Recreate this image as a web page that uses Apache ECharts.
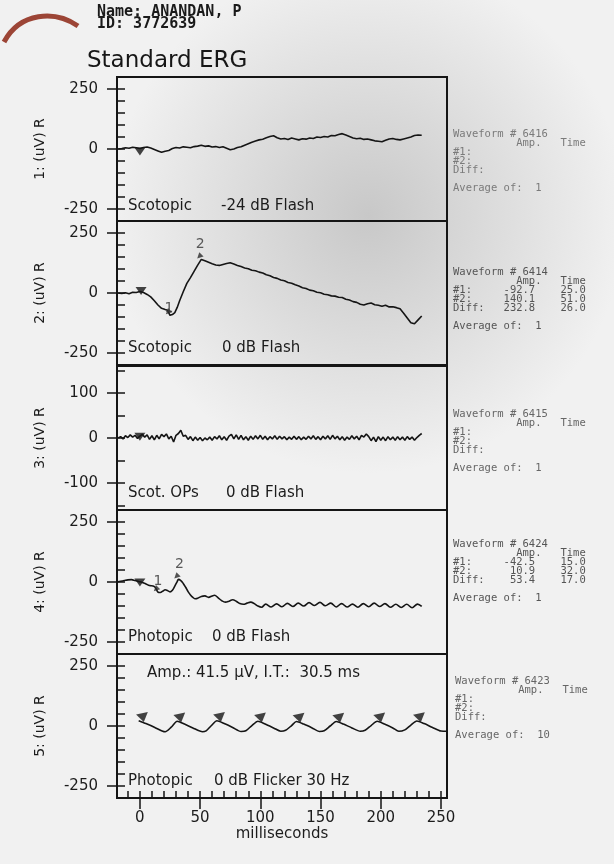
<!DOCTYPE html>
<html>
<head>
<meta charset="utf-8">
<script src="https://cdn.jsdelivr.net/npm/echarts@6/dist/echarts.min.js"></script>
<style>
html,body{margin:0;padding:0;background:#f1f1f1;}
#c{width:614px;height:864px;}
</style>
</head>
<body>
<div id="c"></div>
<script>
// ---------------- text content ----------------
const patientName = 'Name: ANANDAN, P';
const patientId = 'ID: 3772639';
const chartTitle = 'Standard ERG';
const axisNames = ['1: (uV) R', '2: (uV) R', '3: (uV) R', '4: (uV) R', '5: (uV) R'];
const protocolLeft = ['Scotopic', 'Scotopic', 'Scot. OPs', 'Photopic', 'Photopic'];
const protocolRight = ['-24 dB Flash', '0 dB Flash', '0 dB Flash', '0 dB Flash', '0 dB Flicker 30 Hz'];
const flickerSummary = 'Amp.: 41.5 \u00b5V, I.T.:  30.5 ms';
const xAxisName = 'milliseconds';

// ---------------- axes ----------------
const yRanges = [[-300, 300], [-300, 300], [-160, 160], [-300, 300], [-300, 300]];
const yTickLabels = [[-250, 0, 250], [-250, 0, 250], [-100, 0, 100], [-250, 0, 250], [-250, 0, 250]];
const yTicksMinorWide = [-250, -200, -150, -100, -50, 0, 50, 100, 150, 200, 250];
const yTicksMinorOps = [-150, -100, -50, 0, 50, 100, 150];
const xRange = [-19, 255];
const xTickLabels = [0, 50, 100, 150, 200, 250];
const xTicksMinor = [-10, 0, 10, 20, 30, 40, 50, 60, 70, 80, 90, 100, 110, 120, 130, 140, 150, 160, 170, 180, 190, 200, 210, 220, 230, 240, 250];

// ---------------- waveform tables ----------------
const waveformIds = ['6416', '6414', '6415', '6424', '6423'];
const rowLabels = ['#1:', '#2:', 'Diff:'];
const ampValues = [null, [-92.7, 140.1, 232.8], null, [-42.5, 10.9, 53.4], null];
const timeValues = [null, [25.0, 51.0, 26.0], null, [15.0, 32.0, 17.0], null];
const averageOf = [1, 1, 1, 1, 10];

// ---------------- traces: [ms, uV] ----------------
const scotDim = [[-18,0],[-15,2],[-12,5],[-9,3],[-6,7],[-3,5],[0,2],[3,6],[6,8],[9,4],[12,-2],[15,-8],[18,-14],[21,-9],[24,-6],[27,2],[30,6],[33,4],[36,9],[39,7],[42,5],[45,10],[48,12],[51,16],[54,11],[57,13],[60,8],[63,10],[66,6],[69,9],[72,3],[75,-3],[78,0],[81,6],[84,9],[87,16],[90,22],[93,28],[96,33],[99,38],[102,41],[105,47],[108,52],[111,55],[114,47],[117,42],[120,44],[123,40],[126,46],[129,42],[132,38],[135,43],[138,41],[141,46],[144,44],[147,50],[150,48],[153,52],[156,50],[159,56],[162,55],[165,60],[168,64],[171,58],[174,52],[177,46],[180,43],[183,45],[186,40],[189,42],[192,38],[195,34],[198,32],[201,30],[204,36],[207,42],[210,44],[213,40],[216,38],[219,42],[222,46],[225,50],[228,56],[231,58],[234,57]];

const scotBright = [[-18,0],[-15,-2],[-12,1],[-9,-3],[-6,3],[-3,2],[0,6],[3,2],[6,-6],[9,-16],[12,-32],[15,-50],[18,-64],[21,-69],[23,-72],[25,-93],[27,-90],[29,-82],[31,-60],[33,-32],[36,5],[39,40],[42,64],[45,90],[48,116],[51,140],[54,134],[57,128],[60,122],[63,117],[66,115],[69,119],[72,123],[75,126],[78,121],[81,115],[84,110],[87,104],[90,101],[93,95],[96,93],[99,87],[102,83],[105,76],[108,72],[111,65],[114,61],[117,54],[120,51],[123,44],[126,41],[129,34],[132,29],[135,22],[138,19],[141,12],[144,9],[147,3],[150,1],[153,-5],[156,-7],[159,-12],[162,-13],[165,-18],[168,-19],[171,-26],[174,-29],[177,-36],[180,-39],[183,-47],[186,-50],[189,-45],[192,-42],[195,-49],[198,-51],[201,-55],[204,-51],[207,-58],[210,-57],[213,-61],[216,-66],[219,-84],[222,-104],[225,-124],[228,-128],[231,-112],[234,-96]];

const scotOPs = [[-18,0],[-16,3],[-14,-2],[-12,5],[-10,1],[-8,7],[-6,2],[-4,6],[-2,-1],[0,4],[2,8],[4,2],[6,7],[8,-3],[10,5],[12,-4],[14,6],[16,-2],[18,8],[20,3],[22,9],[24,-2],[26,4],[28,-9],[30,6],[32,10],[34,17],[36,4],[38,6],[40,-3],[42,3],[44,-6],[46,2],[48,-5],[50,1],[52,-6],[54,0],[56,-4],[58,2],[60,-5],[62,3],[64,-2],[66,5],[68,-4],[70,3],[72,-5],[74,4],[76,8],[78,-2],[80,7],[82,-3],[84,6],[86,-4],[88,3],[90,-5],[92,4],[94,-3],[96,5],[98,-2],[100,6],[102,-3],[104,4],[106,-4],[108,3],[110,-2],[112,5],[114,-3],[116,4],[118,-2],[120,3],[122,-4],[124,2],[126,-3],[128,4],[130,-3],[132,3],[134,-4],[136,2],[138,-3],[140,4],[142,-2],[144,5],[146,-3],[148,3],[150,-4],[152,4],[154,-2],[156,5],[158,-3],[160,6],[162,-2],[164,4],[166,-4],[168,3],[170,-5],[172,2],[174,-3],[176,5],[178,-2],[180,4],[182,-4],[184,6],[186,2],[188,9],[190,3],[192,-6],[194,2],[196,-8],[198,3],[200,-5],[202,2],[204,-6],[206,3],[208,-4],[210,2],[212,-5],[214,3],[216,-4],[218,2],[220,-5],[222,3],[224,-3],[226,2],[228,-5],[230,1],[232,6],[234,10]];

const photopic = [[-19,0],[-16,3],[-13,6],[-10,9],[-7,10],[-4,6],[-1,2],[2,-2],[5,-8],[8,-15],[11,-17],[13,-24],[15,-42],[17,-44],[19,-38],[21,-32],[23,-36],[25,-41],[27,-34],[29,-17],[31,2],[32,11],[34,6],[36,-6],[38,-22],[40,-40],[42,-54],[44,-64],[46,-70],[48,-68],[51,-60],[54,-58],[57,-64],[60,-58],[62,-55],[65,-66],[68,-78],[71,-84],[74,-80],[77,-74],[80,-80],[83,-90],[86,-93],[89,-88],[92,-84],[95,-90],[98,-100],[101,-105],[104.5,-92],[109,-104],[113.5,-91],[118,-103],[122.5,-89],[127,-102],[131.5,-88],[136,-100],[140.5,-86],[145,-98],[149.5,-85],[154,-99],[158.5,-88],[163,-104],[167.5,-90],[172,-104],[176.5,-92],[181,-105],[185.5,-90],[190,-103],[194.5,-88],[199,-102],[203.5,-90],[208,-105],[212.5,-93],[217,-106],[221.5,-93],[226,-107],[230.5,-92],[234,-102]];

const flicker = [[-1,22],[5,10],[12,-5],[19,-22],[21,-24],[26,-5],[31,20],[37,8],[44,-8],[52,-24],[55,-20],[59,0],[64,22],[70,10],[77,-6],[84,-23],[88,-20],[93,2],[98,20],[104,8],[111,-8],[117,-22],[121,-18],[126,2],[130,19],[136,8],[143,-8],[149,-23],[153,-20],[158,0],[163,19],[169,8],[176,-8],[183,-22],[187,-18],[192,2],[197,20],[203,8],[210,-8],[215,-22],[220,-16],[225,4],[230,21],[236,10],[243,-6],[250,-21],[255,-22]];

// ---------------- markers ----------------
const stimulusMarks = [[[0,-10]], [[1,8]], [[0,3]], [[0,-2]], []];
const cursorNames = ['1', '2'];
const scotBrightCursors = [[25,-92.7],[51,140.1]];
const photopicCursors = [[15,-42.5],[32,10.9]];
const flickerPeaks = [[0,22],[31,20],[64,22],[98,20],[130,19],[163,19],[197,20],[230,21]];

// ---------------- build option ----------------
const traces = [scotDim, scotBright, scotOPs, photopic, flicker];
const smoothing = [false, false, false, 0.35, 0.25];
const gridTops = [77, 221, 366, 510, 654];
const GRID_LEFT = 117, GRID_W = 330, GRID_H = 144;
const INK = '#151515';
const FONT = '"DejaVu Sans", sans-serif';
const MONO = '"DejaVu Sans Mono", "Liberation Mono", monospace';

const grids = [], xAxes = [], yAxes = [], series = [];
for (let i = 0; i < 5; i++) {
  grids.push({left: GRID_LEFT, top: gridTops[i], width: GRID_W, height: GRID_H,
    show: true, borderColor: INK, borderWidth: 2, backgroundColor: 'transparent'});
  const last = i === 4;
  xAxes.push({gridIndex: i, type: 'value', min: xRange[0], max: xRange[1], show: last,
    position: 'bottom',
    axisLine: {show: false, onZero: false},
    axisTick: {show: last, inside: true, length: 7, customValues: xTicksMinor, lineStyle: {color: INK, width: 1.5}},
    axisLabel: {show: false}, splitLine: {show: false}});
  const minor = i === 2 ? yTicksMinorOps : yTicksMinorWide;
  yAxes.push({gridIndex: i, type: 'value', min: yRanges[i][0], max: yRanges[i][1], position: 'left',
    axisLine: {show: false, onZero: false},
    axisTick: {show: true, inside: true, length: 8, customValues: minor, lineStyle: {color: INK, width: 1.5}},
    axisLabel: {show: false}, splitLine: {show: false}});
  yAxes.push({gridIndex: i, type: 'value', min: yRanges[i][0], max: yRanges[i][1], position: 'left', offset: 0,
    axisLine: {show: false, onZero: false},
    axisTick: {show: true, inside: false, length: 10, customValues: yTickLabels[i], lineStyle: {color: INK, width: 1.5}},
    axisLabel: {show: true, customValues: yTickLabels[i], margin: 19, fontSize: 15, fontFamily: FONT, color: '#1c1c1c'},
    splitLine: {show: false},
    name: axisNames[i], nameLocation: 'middle', nameGap: 70, nameRotate: 90,
    nameTextStyle: {fontSize: 14, fontFamily: FONT, color: '#1c1c1c'}});
  series.push({type: 'line', xAxisIndex: i, yAxisIndex: 2 * i, data: traces[i], symbol: 'none',
    smooth: smoothing[i], lineStyle: {color: INK, width: 1.6}, z: 3});
  if (stimulusMarks[i].length) {
    series.push({type: 'scatter', xAxisIndex: i, yAxisIndex: 2 * i, data: stimulusMarks[i],
      symbol: 'triangle', symbolRotate: 180, symbolSize: [11, 8], itemStyle: {color: INK}, z: 4});
  }
}
// extra x axis for labelled major ticks on the bottom panel
xAxes.push({gridIndex: 4, type: 'value', min: xRange[0], max: xRange[1], position: 'bottom', offset: 0,
  axisLine: {show: false, onZero: false},
  axisTick: {show: true, inside: false, length: 11, customValues: xTickLabels, lineStyle: {color: INK, width: 1.5}},
  axisLabel: {show: true, customValues: xTickLabels, margin: 13, fontSize: 15, fontFamily: FONT, color: '#1c1c1c'},
  splitLine: {show: false},
  name: xAxisName, nameLocation: 'middle', nameGap: 28,
  nameTextStyle: {fontSize: 15, fontFamily: FONT, color: '#1c1c1c'}});

function cursorSeries(gi, pts, offsets) {
  return {type: 'scatter', xAxisIndex: gi, yAxisIndex: 2 * gi,
    data: pts.map((p, k) => ({name: cursorNames[k], value: p,
      label: {offset: offsets[k]}})),
    symbol: 'triangle', symbolRotate: 135, symbolSize: 6, symbolOffset: [-2, -3],
    itemStyle: {color: '#2a2a2a'},
    label: {show: true, formatter: '{b}', position: 'top', distance: 1, fontSize: 14, fontFamily: FONT, color: '#333'},
    z: 5};
}
series.push(cursorSeries(1, scotBrightCursors, [[1, 8], [1, 0]]));
series.push(cursorSeries(3, photopicCursors, [[2, 4], [3, 0]]));
series.push({type: 'scatter', xAxisIndex: 4, yAxisIndex: 8, data: flickerPeaks,
  symbol: 'triangle', symbolRotate: 192, symbolSize: [12, 9], symbolOffset: [3, -3],
  itemStyle: {color: INK}, z: 4});

// ---------------- graphic texts ----------------
const graphics = [];
// paper shading
graphics.push({type: 'rect', z: -10, silent: true,
  shape: {x: 0, y: 0, width: 614, height: 864},
  style: {fill: {type: 'radial', x: 0.6, y: 0.25, r: 0.42,
    colorStops: [{offset: 0, color: 'rgba(150,150,150,0.45)'}, {offset: 1, color: 'rgba(150,150,150,0)'}]}}});
// string
graphics.push({type: 'bezierCurve', z: 1, silent: true,
  shape: {x1: 4, y1: 42, x2: 78, y2: 26, cpx1: 20, cpy1: 12, cpx2: 55, cpy2: 10},
  style: {stroke: '#9c4536', lineWidth: 5, fill: null}});
graphics.push({type: 'text', x: 97, y: 12, style: {text: patientName, font: 'bold 15px ' + MONO, fill: '#1a1a1a', verticalAlign: 'middle'}});
graphics.push({type: 'text', x: 97, y: 24, style: {text: patientId, font: 'bold 15px ' + MONO, fill: '#1a1a1a', verticalAlign: 'middle'}});
graphics.push({type: 'text', x: 87, y: 61, style: {text: chartTitle, font: '23px ' + FONT, fill: '#161616', verticalAlign: 'middle'}});

const leftTextY = [206, 348, 493, 637, 781];
const rightTextX = [221, 222, 226, 212, 214];
for (let i = 0; i < 5; i++) {
  graphics.push({type: 'text', x: 128, y: leftTextY[i], z: 10,
    style: {text: protocolLeft[i], font: '15px ' + FONT, fill: '#1c1c1c', verticalAlign: 'middle'}});
  graphics.push({type: 'text', x: rightTextX[i], y: leftTextY[i], z: 10,
    style: {text: protocolRight[i], font: '15px ' + FONT, fill: '#1c1c1c', verticalAlign: 'middle'}});
}
graphics.push({type: 'text', x: 147, y: 673, z: 10,
  style: {text: flickerSummary, font: '15px ' + FONT, fill: '#1c1c1c', verticalAlign: 'middle'}});

// waveform tables at right
const tableY = [135, 273, 415, 545, 682];
const tableX = [453, 453, 453, 453, 455];
const tableColor = ['#7a7a7a', '#555', '#666', '#555', '#666'];
for (let i = 0; i < 5; i++) {
  const lines = ['Waveform # ' + waveformIds[i], '          Amp.   Time'];
  for (let r = 0; r < 3; r++) {
    let s = rowLabels[r];
    if (ampValues[i]) {
      s = (s.padEnd(8) + ampValues[i][r].toFixed(1).padStart(5)).padEnd(17) + timeValues[i][r].toFixed(1);
    }
    lines.push(s);
  }
  lines.push('');
  lines.push('Average of:  ' + averageOf[i]);
  graphics.push({type: 'text', x: tableX[i], y: tableY[i] - 5, z: 10,
    style: {text: lines.join('\n'), font: '10.5px ' + MONO, lineHeight: 9, fill: tableColor[i], verticalAlign: 'top'}});
}

const chart = echarts.init(document.getElementById('c'), null, {renderer: 'canvas'});
chart.setOption({
  backgroundColor: '#f1f1f1',
  animation: false,
  grid: grids,
  xAxis: xAxes,
  yAxis: yAxes,
  series: series,
  graphic: graphics
});
</script>
</body>
</html>
